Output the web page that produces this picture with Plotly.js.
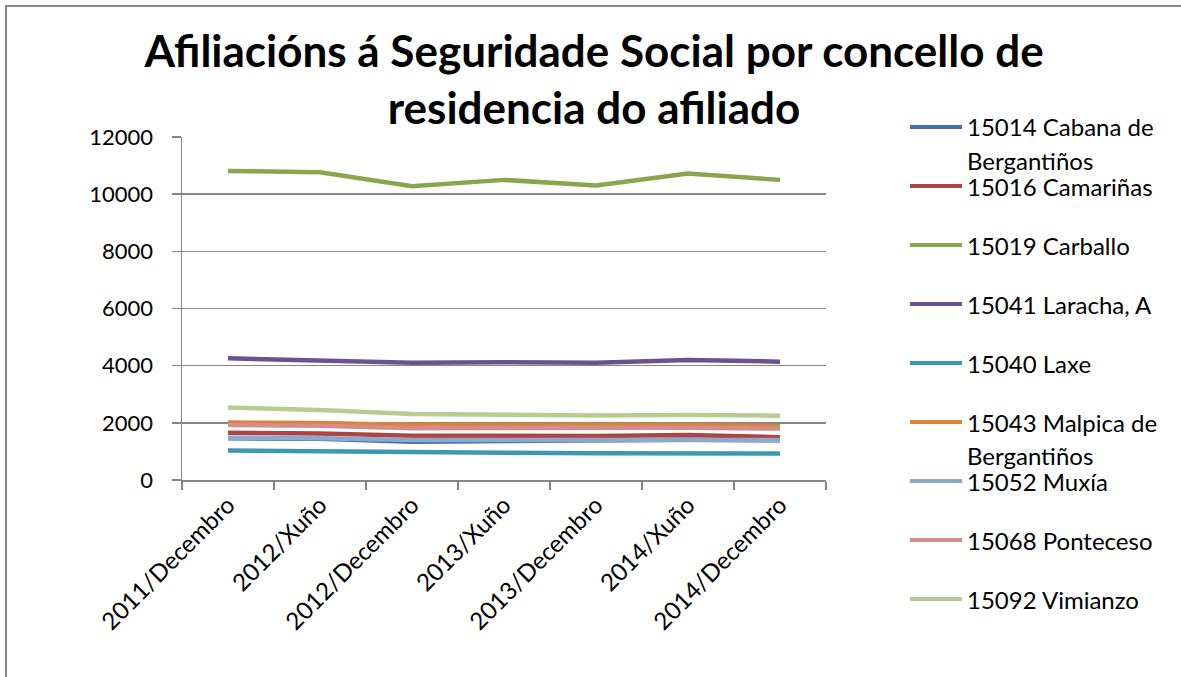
<!DOCTYPE html>
<html>
<head>
<meta charset="utf-8">
<script src="https://cdn.plot.ly/plotly-3.0.1.min.js"></script>
<style>
  html, body { margin: 0; padding: 0; background: #ffffff; }
  #chart { width: 1181px; height: 677px; }
</style>
</head>
<body>
<div id="chart"></div>
<script>
// ---- Data ----
var categories = ["2011/Decembro", "2012/Xuño", "2012/Decembro", "2013/Xuño", "2013/Decembro", "2014/Xuño", "2014/Decembro"];

var seriesNames = [
  "15014 Cabana de Bergantiños",
  "15016 Camariñas",
  "15019 Carballo",
  "15041 Laracha, A",
  "15040 Laxe",
  "15043 Malpica de Bergantiños",
  "15052 Muxía",
  "15068 Ponteceso",
  "15092 Vimianzo"
];
// Legend labels as wrapped in the original
var legendLabels = [
  ["15014 Cabana de", "Bergantiños"],
  ["15016 Camariñas"],
  ["15019 Carballo"],
  ["15041 Laracha, A"],
  ["15040 Laxe"],
  ["15043 Malpica de", "Bergantiños"],
  ["15052 Muxía"],
  ["15068 Ponteceso"],
  ["15092 Vimianzo"]
];

var cabana    = [1460, 1440, 1340, 1370, 1380, 1410, 1390];
var camarinas = [1650, 1630, 1550, 1540, 1540, 1570, 1500];
var carballo  = [10810, 10770, 10280, 10500, 10300, 10720, 10500];
var laracha   = [4260, 4190, 4100, 4120, 4100, 4200, 4140];
var laxe      = [1030, 1000, 950, 950, 940, 950, 930];
var malpica   = [2010, 1990, 1920, 1920, 1910, 1920, 1880];
var muxia     = [1480, 1460, 1400, 1400, 1390, 1420, 1400];
var ponteceso = [1920, 1900, 1810, 1820, 1810, 1830, 1800];
var vimianzo  = [2540, 2450, 2310, 2270, 2260, 2270, 2250];

var seriesValues = [cabana, camarinas, carballo, laracha, laxe, malpica, muxia, ponteceso, vimianzo];

var yTickValues = [0, 2000, 4000, 6000, 8000, 10000, 12000];

// ---- Styles ----
var colors = ["#4170AA", "#AC4543", "#88A64C", "#6B5291", "#3F97AF", "#E0813A", "#8EA8CD", "#D28D8C", "#B5CC92"];
var FONT = "Lato, Carlito, Calibri, 'Open Sans', sans-serif";
var W = 1181, H = 677;
var M = { l: 182, r: 355, t: 137, b: 197 };
var PW = W - M.l - M.r, PH = H - M.t - M.b;
function px2x(px) { return (px - M.l) / PW; }
function py2y(py) { return (H - M.b - py) / PH; }

var traces = seriesNames.map(function (name, i) {
  return {
    type: "scatter",
    mode: "lines",
    name: name,
    x: categories,
    y: seriesValues[i],
    line: { color: colors[i], width: 4.5 },
    showlegend: false,
    hoverinfo: "x+y+name"
  };
});

// Manual legend (matching the original's fixed slots with overflowing second lines)
var shapes = [];
var annotations = [];
var legTop = 127, legStep = 59, legLine2 = 33;
for (var i = 0; i < seriesNames.length; i++) {
  var yy = legTop + legStep * i;
  shapes.push({
    type: "line", xref: "paper", yref: "paper",
    x0: px2x(910), x1: px2x(962), y0: py2y(yy), y1: py2y(yy),
    line: { color: colors[i], width: 4 }
  });
  for (var k = 0; k < legendLabels[i].length; k++) {
    annotations.push({
      xref: "paper", yref: "paper",
      x: px2x(965), y: py2y(yy + k * legLine2),
      xanchor: "left", yanchor: "middle",
      text: legendLabels[i][k], showarrow: false,
      font: { family: FONT, size: 24, color: "#000000" }
    });
  }
}
// outer chart-area border
shapes.push({
  type: "rect", xref: "paper", yref: "paper",
  x0: px2x(6), x1: px2x(1250), y0: py2y(750), y1: py2y(6),
  line: { color: "#868686", width: 2 }, fillcolor: "rgba(0,0,0,0)"
});

var layout = {
  width: W, height: H, autosize: false,
  margin: M,
  paper_bgcolor: "#ffffff",
  plot_bgcolor: "#ffffff",
  font: { family: FONT, size: 22, color: "#000000" },
  title: {
    text: "<b>Afiliacións á Seguridade Social por concello de<br>residencia do afiliado</b>",
    font: { family: FONT, size: 44, color: "#000000" },
    x: 0.503, xref: "container", xanchor: "center",
    y: 1 - 67 / H, yref: "container", yanchor: "middle"
  },
  xaxis: {
    type: "category",
    range: [-0.5, categories.length - 0.5],
    tickangle: -45,
    ticks: "outside", tickson: "boundaries", ticklen: 8, tickcolor: "#868686", tickwidth: 1.5,
    showline: true, linecolor: "#868686", linewidth: 1.5,
    showgrid: false, zeroline: false,
    tickfont: { family: FONT, size: 24, color: "#000000" }
  },
  yaxis: {
    range: [0, 12000],
    tickvals: yTickValues,
    ticktext: yTickValues.map(String),
    ticks: "outside", ticklen: 9, tickcolor: "#868686", tickwidth: 1.5,
    showline: true, linecolor: "#868686", linewidth: 1.5,
    showgrid: true, gridcolor: "#868686", gridwidth: 1.5,
    zeroline: false,
    ticklabelstandoff: 14,
    tickfont: { family: FONT, size: 22, color: "#000000" }
  },
  shapes: shapes,
  annotations: annotations,
  showlegend: false
};

Plotly.newPlot("chart", traces, layout, { displayModeBar: false, staticPlot: true });
</script>
</body>
</html>
